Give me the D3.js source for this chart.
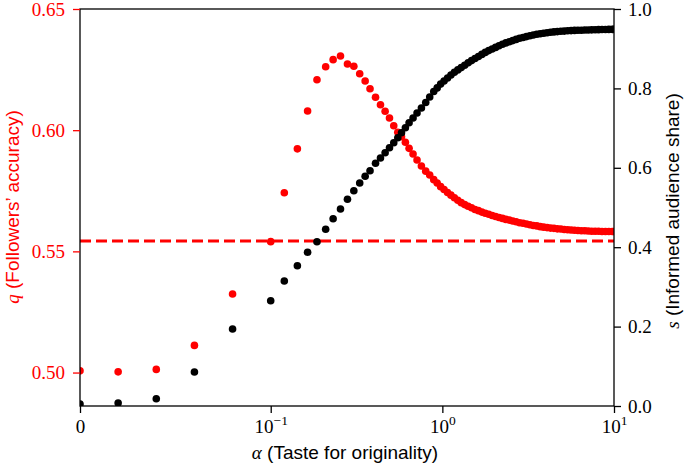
<!DOCTYPE html>
<html>
<head>
<meta charset="utf-8">
<script src="https://cdn.jsdelivr.net/npm/d3@7"></script>
<style>
  html, body { margin: 0; padding: 0; background: #fff; }
  svg { display: block; }
</style>
</head>
<body>
<svg id="chart" width="685" height="468"></svg>
<script>
// ---- data ----
const alpha = [
  0, 0.02, 0.04, 0.06, 0.08, 0.10, 0.12, 0.143, 0.164, 0.186,
  0.209, 0.231, 0.255, 0.280, 0.305, 0.330, 0.355, 0.379, 0.408, 0.436,
  0.464, 0.492, 0.521, 0.550, 0.578, 0.609, 0.640, 0.675, 0.712, 0.755,
  0.800, 0.844,
  0.891, 0.933, 0.977, 1.023, 1.072, 1.122, 1.175, 1.230, 1.288, 1.349,
  1.413, 1.479, 1.549, 1.622, 1.698, 1.778, 1.862, 1.950, 2.042, 2.138,
  2.239, 2.344, 2.455, 2.570, 2.692, 2.818, 2.951, 3.090, 3.236, 3.388,
  3.548, 3.715, 3.890, 4.074, 4.266, 4.467, 4.677, 4.898, 5.129, 5.370,
  5.623, 5.888, 6.166, 6.457, 6.761, 7.079, 7.413, 7.762, 8.128, 8.511,
  8.913, 9.333, 9.772, 10.0
];
// q : followers' accuracy (left axis, red)
const qValues = [
  0.5007, 0.5003, 0.5013, 0.5112, 0.5324, 0.5540, 0.5742, 0.5923, 0.6079, 0.6208,
  0.6262, 0.6291, 0.6306, 0.6273, 0.6264, 0.6233, 0.6203, 0.6171, 0.6136, 0.6105,
  0.6078, 0.6050, 0.6018, 0.5991, 0.5973, 0.5950, 0.5925, 0.5902, 0.5877, 0.5852,
  0.5831, 0.5815,
  0.5796, 0.5782, 0.5767, 0.5755, 0.5743, 0.5732, 0.5721, 0.5711, 0.5701, 0.5693,
  0.5686, 0.5680, 0.5673, 0.5668, 0.5662, 0.5657, 0.5653, 0.5648, 0.5644, 0.5640,
  0.5636, 0.5632, 0.5629, 0.5625, 0.5622, 0.5618, 0.5616, 0.5613, 0.5610, 0.5607,
  0.5605, 0.5602, 0.5600, 0.5598, 0.5596, 0.5595, 0.5593, 0.5592, 0.5590, 0.5589,
  0.5588, 0.5587, 0.5586, 0.5585, 0.5585, 0.5584, 0.5583, 0.5583, 0.5583, 0.5582,
  0.5582, 0.5582, 0.5582, 0.5582
];
// s : informed audience share (right axis, black)
const sValues = [
  0.0050, 0.0076, 0.0184, 0.0856, 0.1940, 0.2652, 0.3149, 0.3534, 0.3872, 0.4139,
  0.4451, 0.4718, 0.4962, 0.5207, 0.5423, 0.5617, 0.5786, 0.5927, 0.6113, 0.6247,
  0.6378, 0.6506, 0.6632, 0.6758, 0.6884, 0.7010, 0.7136, 0.7254, 0.7380, 0.7506,
  0.7645, 0.7783,
  0.7922, 0.8013, 0.8108, 0.8186, 0.8262, 0.8338, 0.8406, 0.8466, 0.8524, 0.8584,
  0.8645, 0.8700, 0.8753, 0.8804, 0.8856, 0.8907, 0.8952, 0.8992, 0.9033, 0.9073,
  0.9113, 0.9146, 0.9174, 0.9204, 0.9234, 0.9262, 0.9282, 0.9305, 0.9325, 0.9345,
  0.9365, 0.9378, 0.9390, 0.9401, 0.9413, 0.9423, 0.9431, 0.9438, 0.9443, 0.9451,
  0.9456, 0.9461, 0.9463, 0.9466, 0.9470, 0.9472, 0.9475, 0.9477, 0.9480, 0.9482,
  0.9484, 0.9486, 0.9487, 0.9489
];
const qBaseline = 0.5543;

const xTickValues = [0, 0.1, 1, 10];
const xTickBase = ["0", "10", "10", "10"];
const xTickExp = ["", "\u22121", "0", "1"];
const qTicks = [0.50, 0.55, 0.60, 0.65];
const sTicks = [0.0, 0.2, 0.4, 0.6, 0.8, 1.0];
const qDomain = [0.4862, 0.65];
const sDomain = [0, 1];
const xDomain = [0, 10];

// ---- layout ----
const L = 80, R = 614, T0 = 9, B = 406;
const RED = "#ff0000";
const serif = "'Liberation Serif', 'Times New Roman', serif";
const sans = "'Liberation Sans', Arial, sans-serif";

// symlog transform (linthresh 0.1, linscale 1, base 10), like matplotlib
const linthresh = 0.1, linAdj = 1 / (1 - 1 / 10);
function symlog(x) {
  const a = Math.abs(x);
  const v = a <= linthresh ? a * linAdj : linthresh * (linAdj + Math.log10(a / linthresh));
  return Math.sign(x) * v;
}

const xs = d3.scaleLinear().domain(xDomain.map(symlog)).range([L, R]);
const X = a => xs(symlog(a));
const yq = d3.scaleLinear().domain(qDomain).range([B, T0]);
const ysc = d3.scaleLinear().domain(sDomain).range([B, T0]);

const svg = d3.select("#chart");

svg.append("defs").append("clipPath").attr("id", "plotclip")
  .append("rect").attr("x", L).attr("y", T0).attr("width", R - L).attr("height", B - T0);

const plot = svg.append("g").attr("clip-path", "url(#plotclip)");

// dashed reference line
plot.append("line")
  .attr("x1", L).attr("x2", R)
  .attr("y1", yq(qBaseline)).attr("y2", yq(qBaseline))
  .attr("stroke", RED).attr("stroke-width", 3)
  .attr("stroke-dasharray", "11,5");

const pts = alpha.map((a, i) => ({ a, q: qValues[i], s: sValues[i] }));
const r = 3.8;

plot.append("g").selectAll("circle").data(pts).join("circle")
  .attr("cx", d => X(d.a)).attr("cy", d => yq(d.q)).attr("r", r).attr("fill", RED);

plot.append("g").selectAll("circle").data(pts).join("circle")
  .attr("cx", d => X(d.a)).attr("cy", d => ysc(d.s)).attr("r", r).attr("fill", "#000");

// frame
svg.append("rect").attr("x", L).attr("y", T0).attr("width", R - L).attr("height", B - T0)
  .attr("fill", "none").attr("stroke", "#000").attr("stroke-width", 1.3);

// x axis
const xAxis = d3.axisBottom(xs)
  .tickValues(xTickValues.map(symlog))
  .tickSize(7).tickPadding(6)
  .tickFormat((d, i) => xTickBase[i]);
const gx = svg.append("g").attr("transform", `translate(0,${B})`).call(xAxis);
gx.select(".domain").remove();
gx.selectAll(".tick line").attr("stroke", "#000").attr("stroke-width", 1.3);
gx.selectAll(".tick text")
  .attr("font-family", serif).attr("font-size", 19).attr("fill", "#000")
  .attr("dy", null).attr("y", 27)
  .each(function(d, i) {
    if (!xTickExp[i]) return;
    const t = d3.select(this);
    t.text(null);
    t.append("tspan").text(xTickBase[i]);
    t.append("tspan").attr("font-size", 13.5).attr("dy", -8).text(xTickExp[i]);
  });

// left axis (q)
const gq = svg.append("g").attr("transform", `translate(${L},0)`)
  .call(d3.axisLeft(yq).tickValues(qTicks).tickSize(7).tickPadding(8).tickFormat(d3.format(".2f")));
gq.select(".domain").remove();
gq.selectAll(".tick line").attr("stroke", RED).attr("stroke-width", 1.3);
gq.selectAll(".tick text").attr("font-family", serif).attr("font-size", 19).attr("fill", RED);

// right axis (s)
const gs = svg.append("g").attr("transform", `translate(${R},0)`)
  .call(d3.axisRight(ysc).tickValues(sTicks).tickSize(7).tickPadding(7).tickFormat(d3.format(".1f")));
gs.select(".domain").remove();
gs.selectAll(".tick line").attr("stroke", "#000").attr("stroke-width", 1.3);
gs.selectAll(".tick text").attr("font-family", serif).attr("font-size", 19).attr("fill", "#000");

// axis titles
const xl = svg.append("text").attr("x", 345).attr("y", 459).attr("text-anchor", "middle")
  .attr("font-size", 19).attr("fill", "#000");
xl.append("tspan").attr("font-family", serif).attr("font-style", "italic").text("\u03b1");
xl.append("tspan").attr("font-family", sans).text(" (Taste for originality)");

const ql = svg.append("text").attr("transform", `translate(19,207) rotate(-90)`)
  .attr("text-anchor", "middle").attr("font-size", 19).attr("fill", RED);
ql.append("tspan").attr("font-family", serif).attr("font-style", "italic").text("q");
ql.append("tspan").attr("font-family", sans).text(" (Followers\u2019 accuracy)");

const sl = svg.append("text").attr("transform", `translate(679,211) rotate(-90)`)
  .attr("text-anchor", "middle").attr("font-size", 19).attr("fill", "#000");
sl.append("tspan").attr("font-family", serif).attr("font-style", "italic").text("s");
sl.append("tspan").attr("font-family", sans).text(" (Informed audience share)");
</script>
</body>
</html>
